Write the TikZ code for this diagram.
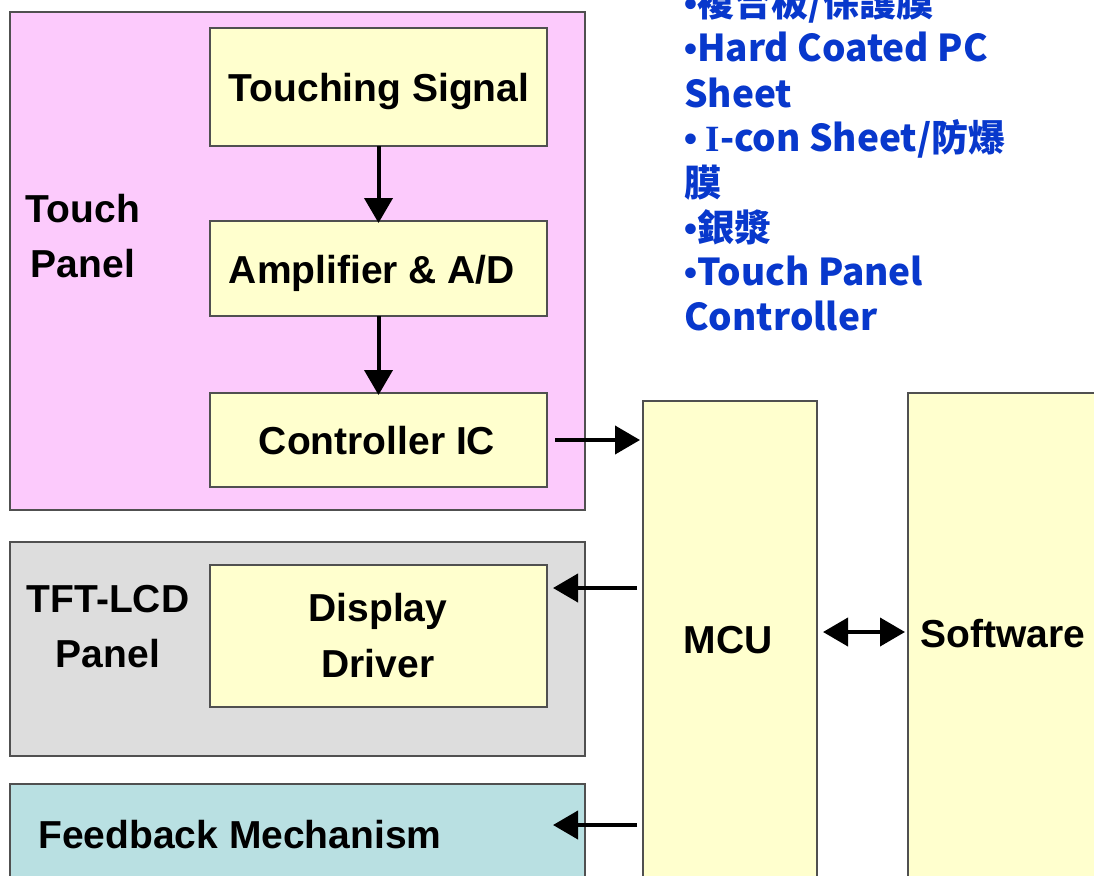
\documentclass[tikz,border=0pt]{standalone}
\usepackage{fontspec}
\setmainfont{Liberation Sans}
\newfontfamily\cjk{Noto Sans CJK TC}
\newfontfamily\serifI{Liberation Serif}
\newfontfamily\bulletfont{Liberation Sans}
\newcommand{\blt}{{\bulletfont\bfseries •}}
\usetikzlibrary{arrows.meta,calc}
\definecolor{boxline}{RGB}{80,80,80}
\definecolor{pinkfill}{RGB}{252,202,252}
\definecolor{yellowfill}{RGB}{255,255,206}
\definecolor{grayfill}{RGB}{221,221,221}
\definecolor{cyanfill}{RGB}{185,224,226}
\definecolor{bluetext}{RGB}{8,56,204}
\begin{document}
\begin{tikzpicture}[x=1pt,y=-1pt,
  box/.style={draw=boxline, line width=2.5pt, anchor=north west, inner sep=0pt, outer sep=0pt},
  ybox/.style={box, fill=yellowfill},
  lbl/.style={font=\fontsize{39}{40}\selectfont\bfseries, anchor=base, inner sep=0pt},
  arr/.style={line width=4pt, -{Triangle[length=25pt,width=28pt]}},
  darr/.style={line width=4pt, {Triangle[length=25pt,width=28pt]}-{Triangle[length=25pt,width=28pt]}},
  bl/.style={font=\cjk\bfseries\fontsize{37}{45}\selectfont, text=bluetext, anchor=base west, inner sep=0pt}]
\useasboundingbox (0,0) rectangle (1094,875);
\fill[white] (0,0) rectangle (1094,875);

% outer panels
\node[box, fill=pinkfill, minimum width=575pt, minimum height=498pt] (tp) at (10,12) {};
\node[box, fill=grayfill, minimum width=575pt, minimum height=214pt] (tft) at (10,542) {};
\node[box, fill=cyanfill, minimum width=575pt, minimum height=130pt] (fb) at (10,784) {};

% inner boxes
\node[ybox, minimum width=337pt, minimum height=118pt] (ts) at (210,28) {};
\node[ybox, minimum width=337pt, minimum height=95pt] (amp) at (210,221) {};
\node[ybox, minimum width=337pt, minimum height=94pt] (ctrl) at (210,393) {};
\node[ybox, minimum width=337pt, minimum height=142pt] (disp) at (210,565) {};
\node[ybox, minimum width=174pt, minimum height=500pt] (mcu) at (643,401) {};
\node[ybox, minimum width=220pt, minimum height=510pt] (sw) at (908,393) {};

% labels
\node[lbl] (tsl) at (379,101) {Touching Signal};
\node[lbl] (ampl) at (372,283) {Amplifier \& A/D};
\node[lbl] (ctrll) at (377,454) {Controller IC};
\node[lbl] (tpl1) at (83,222) {Touch};
\node[lbl] (tpl2) at (83,277) {Panel};
\node[lbl] (tftl1) at (108,612) {TFT-LCD};
\node[lbl] (tftl2) at (108,667) {Panel};
\node[lbl] (displ1) at (378,621) {Display};
\node[lbl] (displ2) at (378,677) {Driver};
\node[lbl] (fbl) at (240,848) {Feedback Mechanism};
\node[lbl] (mcul) at (728,653) {MCU};
\node[lbl] (swl) at (1003,647) {Software};

% connectors
\draw[arr] (ts.south) -- ([yshift=-2pt]amp.north);
\draw[arr] (amp.south) -- ([yshift=-2pt]ctrl.north);
\coordinate (ctrlout) at ($(ctrl.east)+(8,0)$);
\draw[arr] (ctrlout) -- ([xshift=-3pt]mcu.west |- ctrlout);
\coordinate (dispin) at ($(disp.north east)+(6,23)$);
\draw[arr] ([xshift=-6pt]mcu.west |- dispin) -- (dispin);
\coordinate (fbin) at ($(fb.north east)+(-32,41)$);
\draw[arr] ([xshift=-6pt]mcu.west |- fbin) -- (fbin);
\coordinate (mcuout) at ($(mcu.north east)+(6,231)$);
\draw[darr] (mcuout) -- ([xshift=-3pt]sw.west |- mcuout);

% blue notes
\node[bl] (b1) at (684,17) {\blt 複合板/保護膜};
\node[bl] (b2) at (684,62) {\blt Hard Coated PC};
\node[bl] (b3) at (684,107) {Sheet};
\node[bl] (b4) at (684,151) {\blt\ {\serifI I}-con Sheet/防爆};
\node[bl] (b5) at (684,196) {膜};
\node[bl] (b6) at (684,241) {\blt 銀漿};
\node[bl] (b7) at (684,285) {\blt Touch Panel};
\node[bl] (b8) at (684,330) {Controller};
\end{tikzpicture}
\end{document}
